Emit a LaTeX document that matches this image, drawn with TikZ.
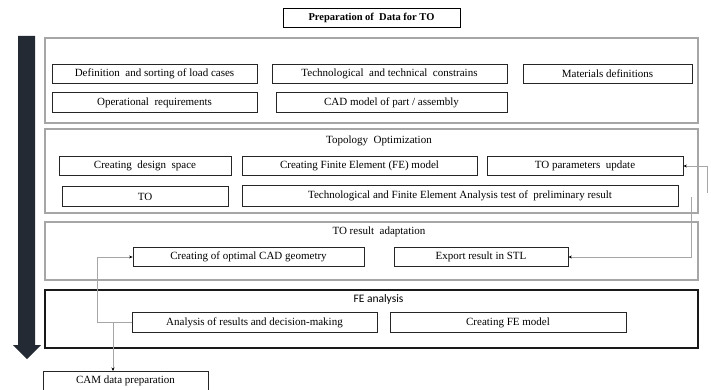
\documentclass[tikz,border=0pt]{standalone}
\usepackage{fontspec}
\setmainfont{Liberation Serif}
\newfontfamily\calib{Carlito}
\usetikzlibrary{arrows.meta}
\definecolor{arrowdark}{HTML}{232A33}
\begin{document}
\begin{tikzpicture}[x=1pt,y=-1pt,
  box/.style={draw=black!85,line width=0.8pt,minimum height=19.5pt,inner sep=0pt,font=\fontsize{11}{13}\selectfont},
  grp/.style={draw=gray!70,line width=2.8pt},
  grpdark/.style={draw=black!90,line width=2.4pt},
  conn/.style={draw=gray!70,line width=0.7pt},
  tip/.style={-{Stealth[length=3.5pt,width=3pt,black]}},
  ttl/.style={font=\fontsize{11}{13}\selectfont,inner sep=0pt}]
\fill[white] (0,0) rectangle (711,390);
\useasboundingbox (0,0) rectangle (711,390);

% title
\node[box,draw=black,font=\fontsize{10.5}{12}\selectfont\bfseries,minimum width=177pt,minimum height=19pt] (title) at (371.5,17.5) {Preparation of\ \ Data for TO};

% big arrow
\fill[arrowdark] (18,36) -- (35,36) -- (35,345) -- (41,345) -- (27,359) -- (13,345) -- (18,345) -- cycle;

% groups
\draw[grp] (45,38) rectangle (698,123);
\draw[grp] (45,129) rectangle (698,213);
\draw[grp] (45,222) rectangle (698,280);
\draw[grpdark] (45,290) rectangle (698,348);

% group 1
\node[box,minimum width=205pt] (load) at (154.5,74) {Definition\ \ and sorting of load cases};
\node[box,minimum width=235pt] (tech) at (389.5,74) {Technological\ \ and technical\ \ constrains};
\node[box,minimum width=169pt] (mat) at (607.5,74) {Materials definitions};
\node[box,minimum width=205pt] (oper) at (154.5,102.5) {Operational\ \ requirements};
\node[box,minimum width=231pt] (cad) at (391.5,102.5) {CAD model of part / assembly};

% group 2
\node[ttl] (topt) at (379,141) {Topology\ \ Optimization};
\node[box,minimum width=172pt] (ds) at (145,166) {Creating\ \ design\ \ space};
\node[box,minimum width=235pt] (fem) at (359.5,166) {Creating Finite Element (FE) model};
\node[box,minimum width=196pt] (par) at (585,166) {TO parameters\ \ update};
\node[box,minimum width=166pt,minimum height=20.5pt] (to) at (145,196.5) {TO};
\node[box,minimum width=436pt,minimum height=20.5pt] (test) at (460,196) {Technological and Finite Element Analysis test of\ \ preliminary result};

% group 3
\node[ttl] (tort) at (379,232) {TO result\ \ adaptation};
\node[box,minimum width=231pt] (geom) at (248.5,257) {Creating of optimal CAD geometry};
\node[box,minimum width=174pt] (stl) at (481,257) {Export result in STL};

% group 4
\node[ttl,font=\calib\fontsize{11.5}{13}\selectfont] (fea) at (378.5,299.5) {FE analysis};
\node[box,minimum width=245pt] (anal) at (254.5,322.5) {Analysis of results and decision-making};
\node[box,minimum width=236pt] (femod) at (508,322.5) {Creating FE model};

% CAM
\node[box,minimum width=165pt,anchor=north] (cam) at (125.5,371) {CAM data preparation};

% connectors
\coordinate (r1) at (707,193);
\coordinate (r2) at (691,197);
\draw[conn,tip] (r1) |- (par.east);
\draw[conn,tip] (r2) |- (stl.east);
\coordinate (lft) at (97,322.5);
\draw[conn,tip] (anal.west) -- (lft) |- (geom.west);
\coordinate (br) at (113,322.5);
\draw[conn,tip] (br) -- (br |- cam.north);
\end{tikzpicture}
\end{document}
